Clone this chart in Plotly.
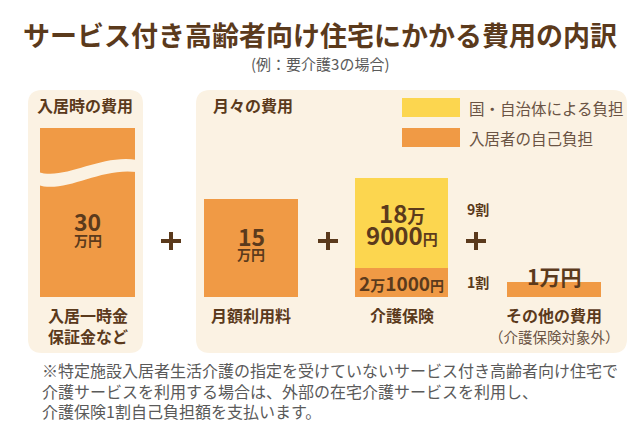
import plotly.graph_objects as go

W, H = 640, 443
OFF = 8  # default page body margin of the exported HTML
FONT = "Noto Sans CJK JP"
BROWN = "#5B3A1C"
GRAY = "#5a5a5a"
SOFT = "#6b5444"
ORANGE = "#F09A45"
YELLOW = "#FCD64F"
PANEL = "#FBF2E3"

# ---- data ----
categories = ["入居一時金<br>保証金など", "月額利用料", "介護保険", "その他の費用<br>（介護保険対象外）"]
self_pay_labels = ["30万円", "15万円", "2万1000円", "1万円"]
public_pay_labels = ["", "", "18万9000円", ""]
# drawn (illustrative) heights of the bars, as seen in the picture
self_heights = [169, 98, 29, 15]
public_heights = [0, 0, 90, 0]
legend_labels = ["国・自治体による負担", "入居者の自己負担"]
share_labels = ["9割", "1割"]

# ---- layout helpers (page pixel coordinates, y measured from top) ----
def Y(py):
    return H - py

bar_x = [87.5, 251, 401.5, 554]
bar_w = [95, 94, 93, 94]
baseline = Y(297)

fig = go.Figure()
fig.add_trace(go.Bar(x=bar_x, y=self_heights, base=[baseline] * 4, width=bar_w,
                     marker=dict(color=ORANGE, line=dict(width=0)),
                     hoverinfo="skip", showlegend=False))
pub_x = [x for x, h in zip(bar_x, public_heights) if h > 0]
pub_w = [w for w, h in zip(bar_w, public_heights) if h > 0]
pub_base = [baseline + s for s, h in zip(self_heights, public_heights) if h > 0]
pub_h = [h for h in public_heights if h > 0]
fig.add_trace(go.Bar(x=pub_x, y=pub_h, base=pub_base, width=pub_w,
                     marker=dict(color=YELLOW, line=dict(width=0)),
                     hoverinfo="skip", showlegend=False))

def rrect(x0, y0, x1, y1, r):
    a, b, c, d = x0, Y(y0), x1, Y(y1)
    return (f"M {a+r},{b} L {c-r},{b} Q {c},{b} {c},{b-r} L {c},{d+r} Q {c},{d} {c-r},{d} "
            f"L {a+r},{d} Q {a},{d} {a},{d+r} L {a},{b-r} Q {a},{b} {a+r},{b} Z")

shapes = []
shapes.append(dict(type="path", path=rrect(28, 90, 143, 353, 14), fillcolor=PANEL,
                   line=dict(width=0), layer="below"))
shapes.append(dict(type="path", path=rrect(196, 90, 627, 353, 14), fillcolor=PANEL,
                   line=dict(width=0), layer="below"))

# wave break in the first bar
wave = (f"M 38,{Y(172)} C 65,{Y(181)} 100,{Y(154)} 137,{Y(160)} "
        f"L 137,{Y(172)} C 100,{Y(167)} 65,{Y(194)} 38,{Y(185)} Z")
shapes.append(dict(type="path", path=wave, fillcolor=PANEL, line=dict(width=0), layer="above"))

# legend swatches
shapes.append(dict(type="rect", x0=402, x1=460, y0=Y(98), y1=Y(117), fillcolor=YELLOW,
                   line=dict(width=0), layer="above"))
shapes.append(dict(type="rect", x0=402, x1=460, y0=Y(128), y1=Y(147), fillcolor=ORANGE,
                   line=dict(width=0), layer="above"))

# plus signs
for cx, cy in [(171, 241), (328, 241), (476, 241)]:
    shapes.append(dict(type="line", x0=cx - 10, x1=cx + 10, y0=Y(cy), y1=Y(cy),
                       line=dict(color=BROWN, width=4), layer="above"))
    shapes.append(dict(type="line", x0=cx, x1=cx, y0=Y(cy - 9), y1=Y(cy + 9),
                       line=dict(color=BROWN, width=4), layer="above"))

ann = []
def T(x, py, text, size, color=BROWN, bold=False, xanchor="center"):
    if bold:
        text = f"<b>{text}</b>"
    ann.append(dict(x=x, y=Y(py), text=text, showarrow=False, xanchor=xanchor,
                    yanchor="middle", font=dict(family=FONT, size=size, color=color)))

T(320, 34, "サービス付き高齢者向け住宅にかかる費用の内訳", 27, bold=True)
T(320, 63, "(例：要介護3の場合)", 15, color=GRAY)
T(85, 105, "入居時の費用", 16, bold=True)
T(211, 105, "月々の費用", 16, bold=True, xanchor="left")
T(467, 108, legend_labels[0], 15.5, color=SOFT, xanchor="left")
T(467, 138, legend_labels[1], 15.5, color=SOFT, xanchor="left")

# bar value labels (split number / unit for sizing)
T(bar_x[0], 221, self_pay_labels[0][:2], 23, bold=True)
T(bar_x[0], 240, self_pay_labels[0][2:], 14, bold=True)
T(bar_x[1], 236, self_pay_labels[1][:2], 23, bold=True)
T(bar_x[1], 254, self_pay_labels[1][2:], 14, bold=True)
pl = public_pay_labels[2]
T(bar_x[2], 212, f"{pl[:2]}<span style='font-size:18px'>{pl[2]}</span>", 24, bold=True)
T(bar_x[2], 234, f"{pl[3:7]}<span style='font-size:15px'>{pl[7]}</span>", 24, bold=True)
sl = self_pay_labels[2]
T(bar_x[2], 282, f"{sl[0]}<span style='font-size:15px'>{sl[1]}</span>{sl[2:6]}"
                 f"<span style='font-size:14px'>{sl[6]}</span>", 19, bold=True)
T(bar_x[3], 276, self_pay_labels[3], 21, bold=True)
T(478, 209, share_labels[0], 14, bold=True)
T(478, 282, share_labels[1], 14, bold=True)

# category labels
c0 = categories[0].split("<br>")
T(bar_x[0], 315, c0[0], 16, bold=True)
T(bar_x[0], 336, c0[1], 16, bold=True)
T(bar_x[1], 315, categories[1], 16, bold=True)
T(bar_x[2], 315, categories[2], 16, bold=True)
c3 = categories[3].split("<br>")
T(bar_x[3], 315, c3[0], 16, bold=True)
T(bar_x[3], 336, c3[1], 14.5, color=SOFT)

# footnote
notes = ["※特定施設入居者生活介護の指定を受けていないサービス付き高齢者向け住宅で",
         "介護サービスを利用する場合は、外部の在宅介護サービスを利用し、",
         "介護保険1割自己負担額を支払います。"]
for i, line in enumerate(notes):
    T(40, 370 + i * 20.5, line, 16, color=GRAY, xanchor="left")

fig.update_layout(
    width=W, height=H, margin=dict(l=0, r=0, t=0, b=0),
    paper_bgcolor="white", plot_bgcolor="rgba(0,0,0,0)",
    xaxis=dict(range=[OFF, W + OFF], visible=False, fixedrange=True),
    yaxis=dict(range=[-OFF, H - OFF], visible=False, fixedrange=True),
    shapes=shapes, annotations=ann, barmode="overlay", bargap=0,
    showlegend=False, dragmode=False,
)
fig.write_html("out.html", config=dict(displayModeBar=False, staticPlot=True))
